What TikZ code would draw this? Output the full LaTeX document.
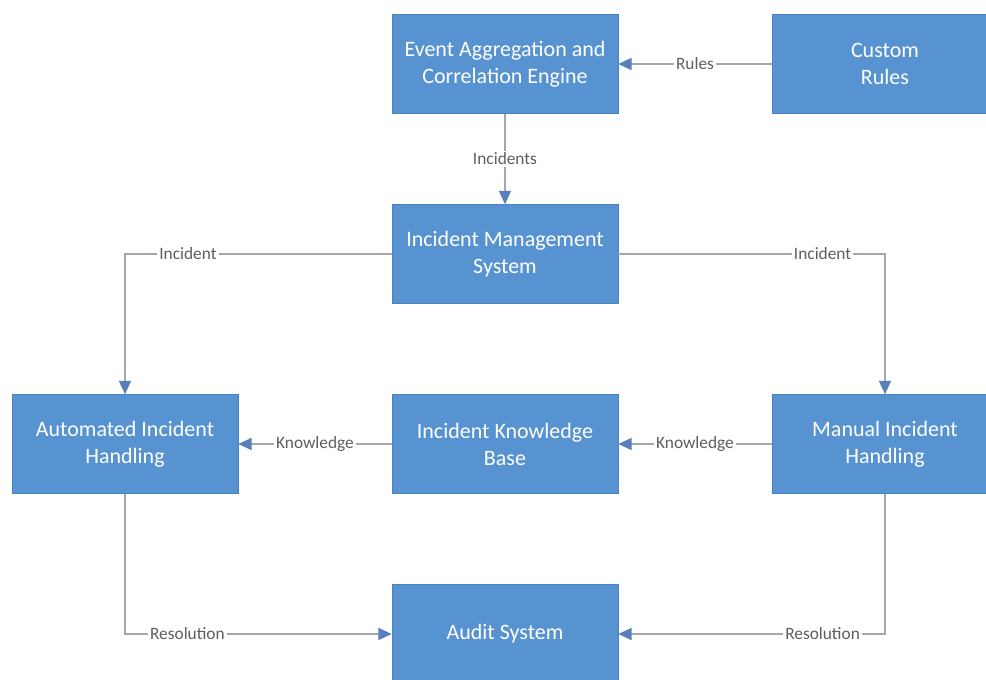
\documentclass[tikz,border=0pt]{standalone}
\usepackage{fontspec}
\setmainfont{Carlito}
\usetikzlibrary{arrows.meta}

\definecolor{boxblue}{HTML}{5893D1}
\definecolor{boxedge}{HTML}{4A82BE}
\definecolor{linegray}{HTML}{A4A8AE}
\definecolor{tipblue}{HTML}{5A80BC}
\definecolor{labelgray}{HTML}{5E5E5E}

\tikzset{
  stagebox/.style={rectangle, fill=boxblue, draw=boxedge, line width=0.4pt,
    minimum width=169.5pt, minimum height=74.25pt, align=center,
    text=white, font=\fontsize{16.5}{20.25}\selectfont},
  conn/.style={draw=linegray, line width=1.1pt,
    -{Triangle[length=10pt,width=9pt,color=tipblue]}},
  lbl/.style={fill=white, inner sep=1.5pt, text=labelgray,
    font=\fontsize{13}{15}\selectfont}
}

\begin{document}
\begin{tikzpicture}[x=0.75pt, y=-0.75pt]
  % page area
  \clip (0,0) rectangle (986,679);
  \fill[white] (0,0) rectangle (986,679);

  % components
  \node[stagebox] (event)  at (505,64)  {Event Aggregation and\\Correlation Engine};
  \node[stagebox] (custom) at (885,64)  {Custom\\Rules};
  \node[stagebox] (ims)    at (505,254) {Incident Management\\System};
  \node[stagebox] (auto)   at (125,444) {Automated Incident\\Handling};
  \node[stagebox] (kb)     at (505,444) {Incident Knowledge\\Base};
  \node[stagebox] (manual) at (885,444) {Manual Incident\\Handling};
  \node[stagebox] (audit)  at (505,634) {Audit System};

  % flows
  \draw[conn] (custom.west) -- node[lbl] {Rules} (event.east);
  \draw[conn] (event.south) -- node[lbl] {Incidents} (ims.north);
  \draw[conn] (ims.west) -| node[lbl, pos=0.382] {Incident} (auto.north);
  \draw[conn] (ims.east) -| node[lbl, pos=0.383] {Incident} (manual.north);
  \draw[conn] (manual.west) -- node[lbl] {Knowledge} (kb.east);
  \draw[conn] (kb.west) -- node[lbl] {Knowledge} (auto.east);
  \draw[conn] (auto.south) |- node[lbl, pos=0.617] {Resolution} (audit.west);
  \draw[conn] (manual.south) |- node[lbl, pos=0.617] {Resolution} (audit.east);
\end{tikzpicture}
\end{document}
